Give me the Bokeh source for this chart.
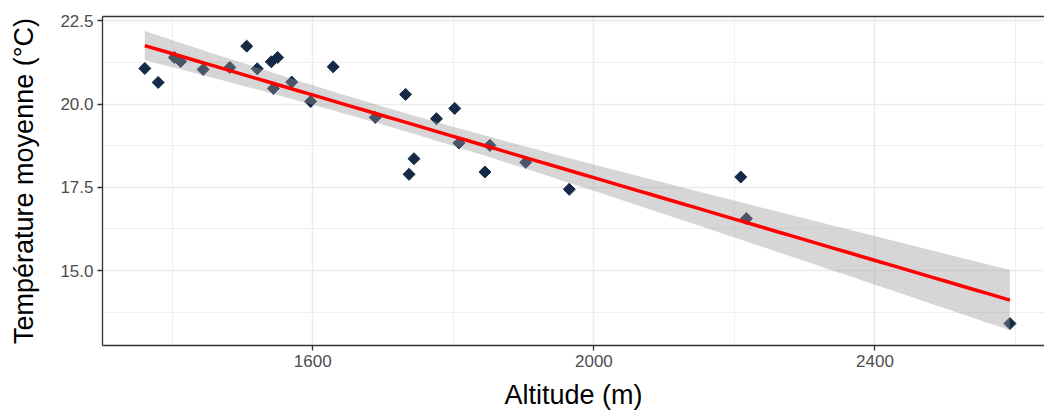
import numpy as np
from bokeh.plotting import figure
from bokeh.models import FixedTicker, LinearAxis, PrintfTickFormatter, ColumnDataSource
from bokeh.embed import file_html
from bokeh.resources import INLINE

# Data
altitude = [1361, 1380, 1403, 1412, 1444, 1482, 1506, 1521, 1541, 1550,
            1544, 1570, 1597, 1629, 1689, 1732, 1776, 1802, 1744, 1737,
            1808, 1845, 1852, 1903, 1965, 2209, 2217, 2592]
temperature = [21.07, 20.65, 21.40, 21.28, 21.04, 21.10, 21.74, 21.06, 21.27, 21.40,
               20.47, 20.66, 20.08, 21.12, 19.60, 20.29, 19.56, 19.87, 18.36, 17.89,
               18.83, 17.96, 18.76, 18.25, 17.44, 17.81, 16.56, 13.41]
x_ticks = [1600, 2000, 2400]
x_minor = [1400, 1800, 2200, 2600]
y_ticks = [15.0, 17.5, 20.0, 22.5]
y_minor = [13.75, 16.25, 18.75, 21.25]

# linear fit with 95% confidence band (as geom_smooth(method="lm"))
xa = np.array(altitude, float)
ya = np.array(temperature, float)
n = len(xa)
xbar = xa.mean()
sxx = ((xa - xbar) ** 2).sum()
b = ((xa - xbar) * (ya - ya.mean())).sum() / sxx
a = ya.mean() - b * xbar
resid = ya - (a + b * xa)
s = np.sqrt((resid ** 2).sum() / (n - 2))
tq = 2.0555  # t(0.975, df=26)
xs = np.linspace(xa.min(), xa.max(), 80)
yhat = a + b * xs
se = s * np.sqrt(1.0 / n + (xs - xbar) ** 2 / sxx)
lower = yhat - tq * se
upper = yhat + tq * se

p = figure(width=1044, height=416, x_range=(1300.8, 2641.2), y_range=(12.75, 22.63),
           output_backend="svg", toolbar_location=None,
           min_border_left=102, min_border_right=0, min_border_top=16, min_border_bottom=71)
p.outline_line_color = None
p.background_fill_color = "white"
p.border_fill_color = "white"

xt = FixedTicker(ticks=x_ticks, minor_ticks=x_minor)
yt = FixedTicker(ticks=y_ticks, minor_ticks=y_minor)
p.xaxis.ticker = xt
p.yaxis.ticker = yt
p.xgrid.ticker = xt
p.ygrid.ticker = yt
p.yaxis.formatter = PrintfTickFormatter(format="%.1f")

for g in (p.xgrid, p.ygrid):
    g.grid_line_color = "#EBEBEB"
    g.grid_line_width = 1.5
    g.minor_grid_line_color = "#EBEBEB"
    g.minor_grid_line_width = 0.8

for ax in (p.xaxis, p.yaxis):
    ax.axis_line_color = "#333333"
    ax.axis_line_width = 1.3
    ax.major_tick_line_color = "#333333"
    ax.major_tick_line_width = 1.3
    ax.major_tick_out = 5
    ax.major_tick_in = 0
    ax.minor_tick_line_color = None
    ax.major_label_text_font = "Liberation Sans"
    ax.major_label_text_font_size = "17px"
    ax.major_label_text_color = "#4D4D4D"
    ax.axis_label_text_font = "Liberation Sans"
    ax.axis_label_text_font_size = "27px"
    ax.axis_label_text_font_style = "normal"
    ax.axis_label_text_color = "black"
    ax.major_label_standoff = 4

p.xaxis.axis_label = "Altitude (m)"
p.yaxis.axis_label = "Température moyenne (°C)"
p.xaxis.axis_label_standoff = 10
p.yaxis.axis_label_standoff = 18

top = LinearAxis(ticker=FixedTicker(ticks=[]), axis_line_color="#333333", axis_line_width=1.3,
                 major_tick_line_color=None, minor_tick_line_color=None,
                 major_label_text_font_size="0px")
p.add_layout(top, "above")

pts = ColumnDataSource(dict(x=altitude, y=temperature))
p.scatter("x", "y", source=pts, marker="square", size=8.5, angle=np.pi / 4,
          fill_color="#162947", line_color="#162947")

band = ColumnDataSource(dict(x=xs, lo=lower, hi=upper))
p.varea(x="x", y1="lo", y2="hi", source=band, fill_color="#999999", fill_alpha=0.4)
p.line(xs, yhat, line_color="red", line_width=3.5)

open("out.html", "w").write(file_html(p, INLINE))
